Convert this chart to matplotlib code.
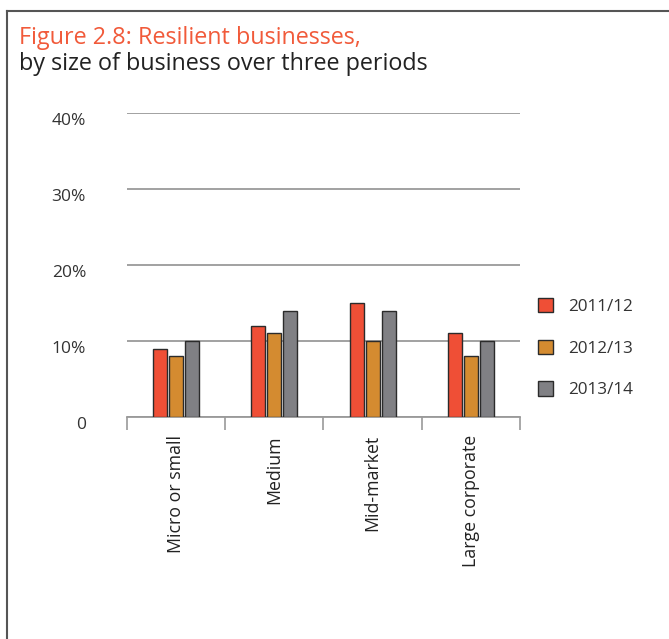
import matplotlib.pyplot as plt
from matplotlib.lines import Line2D
from matplotlib.patches import Patch
import numpy as np

categories = ["Micro or small", "Medium", "Mid-market", "Large corporate"]
periods = ["2011/12", "2012/13", "2013/14"]
values_2011 = [9, 12, 15, 11]
values_2012 = [8, 11, 10, 8]
values_2013 = [10, 14, 14, 10]
y_ticks = [0, 10, 20, 30, 40]
y_labels = ["0", "10%", "20%", "30%", "40%"]

colors = ["#EF4F36", "#D48B30", "#808084"]
series = [values_2011, values_2012, values_2013]

plt.rcParams['font.family'] = ['Open Sans', 'DejaVu Sans']

fig = plt.figure(figsize=(6.69, 6.39), dpi=100)
ax = fig.add_axes([0.1898, 0.3474, 0.5874, 0.4757])

x = np.arange(len(categories)) + 0.5
w = 0.143
step = 0.163
for i, vals in enumerate(series):
    ax.bar(x + (i - 1) * step, vals, width=w, color=colors[i],
           edgecolor="#2b2b2b", linewidth=1.0, zorder=3)

ax.set_xlim(0, 4)
ax.set_ylim(0, 40)
ax.set_yticks(y_ticks)
ax.set_yticklabels(y_labels, fontsize=12.5, color="#333333")
ax.tick_params(axis="y", length=0, pad=29.5)
for t in ax.get_yticklabels():
    t.set_horizontalalignment("right")
    t.set_verticalalignment("top")
ax.grid(axis="y", color="#9a9a9a", linewidth=1.3, zorder=1)

ax.set_xticks([0, 1, 2, 3, 4])
ax.set_xticklabels([])
ax.tick_params(axis="x", length=9, width=1.2, color="#9a9a9a", direction="out")
for xc, name in zip(x, categories):
    ax.text(xc, -2.4, name, rotation=90, ha="center", va="top",
            fontsize=12.8, color="#222222")

for s in ["top", "right", "left"]:
    ax.spines[s].set_visible(False)
ax.spines["bottom"].set_color("#9a9a9a")
ax.spines["bottom"].set_linewidth(1.3)

handles = [Patch(facecolor=c, edgecolor="#2b2b2b", linewidth=1.0) for c in colors]
fig.legend(handles, periods, loc="upper left", bbox_to_anchor=(0.781, 0.558),
           frameon=False, fontsize=12.3, handlelength=0.9, handleheight=0.9,
           handletextpad=0.9, labelspacing=1.45, labelcolor="#333333")

# frame around the figure panel
fig.add_artist(Line2D([7 / 669, 1], [1 - 11 / 639, 1 - 11 / 639],
                      color="#555555", linewidth=1.5))
fig.add_artist(Line2D([7 / 669, 7 / 669], [0, 1 - 11 / 639],
                      color="#555555", linewidth=1.5))

fig.text(19 / 669, 1 - 44 / 639, "Figure 2.8: Resilient businesses,",
         fontsize=16.8, color="#F15A3A", va="baseline")
fig.text(19 / 669, 1 - 70 / 639, "by size of business over three periods",
         fontsize=16.8, color="#222222", va="baseline")

fig.savefig("out.png", dpi=100)
